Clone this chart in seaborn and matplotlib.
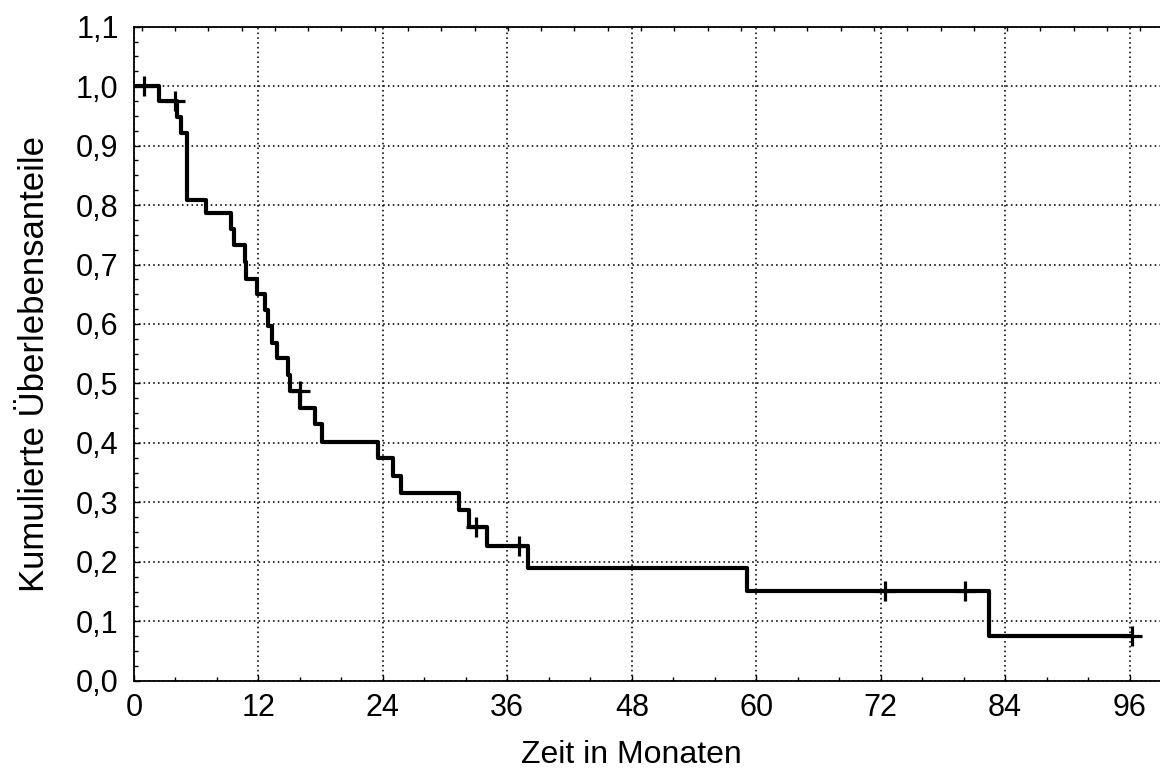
import matplotlib
matplotlib.use("Agg")
import matplotlib.pyplot as plt
from matplotlib.ticker import MultipleLocator, FixedFormatter, NullFormatter
import seaborn as sns
import pandas as pd

# ---- data ----
step_times = [0.0, 2.44, 4.12, 4.5, 5.1, 6.9, 9.35, 9.64, 10.7, 10.8, 11.83, 12.66,
              12.95, 13.34, 13.82, 14.85, 15.09, 16.05, 17.5, 18.16, 23.56, 25.0,
              25.75, 31.37, 32.3, 34.0, 37.97, 59.08, 82.48, 96.2]
step_surv = [1.0, 0.975, 0.948, 0.921, 0.809, 0.786, 0.759, 0.732, 0.705, 0.676,
             0.651, 0.624, 0.596, 0.568, 0.542, 0.515, 0.488, 0.459, 0.432, 0.402,
             0.374, 0.345, 0.316, 0.287, 0.258, 0.226, 0.189, 0.151, 0.075, 0.075]
censor_times = [0.96, 3.95, 16.0, 32.98, 37.16, 72.4, 80.1, 96.2]
censor_surv = [1.0, 0.975, 0.488, 0.258, 0.226, 0.151, 0.151, 0.075]

x_ticks = [0, 12, 24, 36, 48, 60, 72, 84, 96]
y_ticks = [0.0, 0.1, 0.2, 0.3, 0.4, 0.5, 0.6, 0.7, 0.8, 0.9, 1.0, 1.1]
y_tick_labels = ["0,0", "0,1", "0,2", "0,3", "0,4", "0,5", "0,6", "0,7", "0,8",
                 "0,9", "1,0", "1,1"]
x_label = "Zeit in Monaten"
y_label = "Kumulierte Überlebensanteile"

# ---- style ----
sns.set_style("ticks")
plt.rcParams["font.family"] = ["Liberation Sans", "DejaVu Sans"]

W, H, DPI = 1160, 781, 100
fig = plt.figure(figsize=(W / DPI, H / DPI), dpi=DPI)
ax_left, ax_bottom_px, ax_top_px = 134, 680.7, 26.7
xmax = 99.0
px_per_month = 10.37
ax = fig.add_axes([ax_left / W, (H - ax_bottom_px) / H,
                   xmax * px_per_month / W, (ax_bottom_px - ax_top_px) / H])

steps = pd.DataFrame({"t": step_times, "s": step_surv})
cens = pd.DataFrame({"t": censor_times, "s": censor_surv})

sns.lineplot(data=steps, x="t", y="s", drawstyle="steps-post", color="black",
             linewidth=3.0, ax=ax, zorder=3)
sns.scatterplot(data=cens, x="t", y="s", marker="+", s=210, color="black",
                linewidth=2.3, ax=ax, zorder=4)

ax.set_xlim(0, xmax)
ax.set_ylim(0, 1.1)
ax.set_xticks(x_ticks)
ax.set_yticks(y_ticks)
ax.yaxis.set_major_formatter(FixedFormatter(y_tick_labels))
ax.xaxis.set_minor_locator(MultipleLocator(4))
ax.yaxis.set_minor_locator(MultipleLocator(0.025))
ax.xaxis.set_minor_formatter(NullFormatter())

ax.grid(True, which="major", color="black", linestyle=(0, (1, 2)), linewidth=1.15)
ax.tick_params(axis="both", which="both", direction="in", colors="black",
               labelsize=22, width=1.0)
ax.tick_params(axis="both", which="major", length=4)
ax.tick_params(axis="both", which="minor", length=3)
ax.tick_params(axis="x", which="major", pad=9)
ax.tick_params(axis="y", which="major", pad=11)
ax.tick_params(top=False, right=False, which="both")

for sp in ax.spines.values():
    sp.set_color("black")
    sp.set_linewidth(1.3)
    sp.set_visible(True)

# top axis ticks (different spacing in the reference)
top = ax.secondary_xaxis("top", functions=(lambda x: (x - 0.74) / 3.21,
                                           lambda u: u * 3.21 + 0.74))
top.xaxis.set_major_locator(MultipleLocator(1))
top.tick_params(direction="in", length=3, width=1.0, labeltop=False, colors="black")
top.spines["top"].set_visible(False)

ax.set_xlabel(x_label, fontsize=23, labelpad=12, color="black")
ax.set_ylabel(y_label, fontsize=25, labelpad=18, color="black")
ax.xaxis.label.set_x(0.484)
ax.yaxis.label.set_y(0.484)

fig.savefig("out.png", dpi=DPI)
